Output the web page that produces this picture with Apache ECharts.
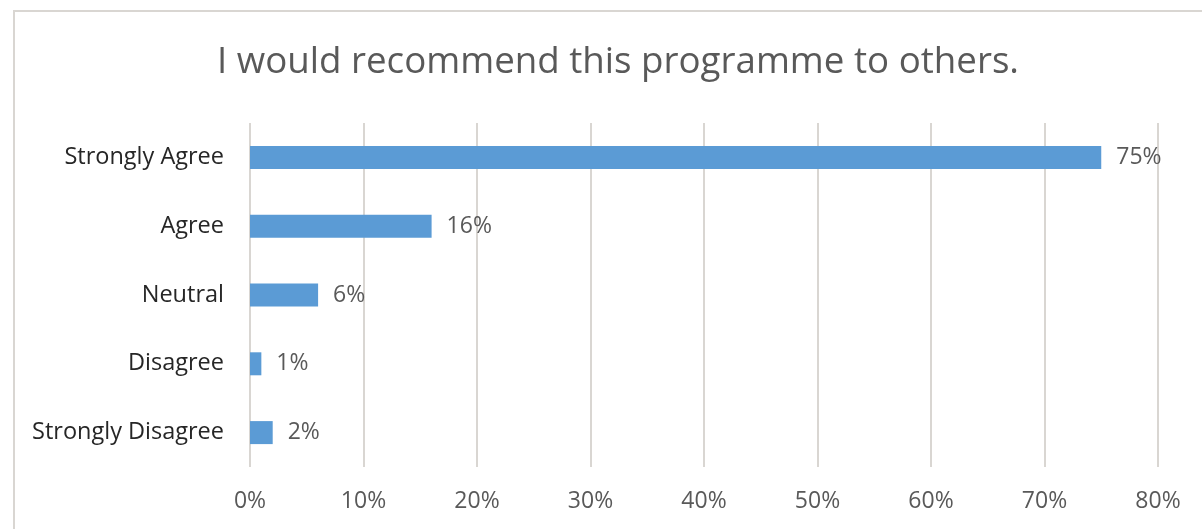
<!DOCTYPE html>
<html>
<head>
<meta charset="utf-8">
<script src="https://cdn.jsdelivr.net/npm/echarts@6/dist/echarts.min.js"></script>
<style>
  html, body { margin: 0; padding: 0; background: #ffffff; }
  #chart { width: 1202px; height: 529px; }
</style>
</head>
<body>
<div id="chart"></div>
<script>
// Survey responses, top to bottom as shown
const categories = ['Strongly Agree', 'Agree', 'Neutral', 'Disagree', 'Strongly Disagree'];
const shares = [75, 16, 6, 1, 2]; // percent of respondents
const tickValues = [0, 10, 20, 30, 40, 50, 60, 70, 80];
const titleText = 'I would recommend this programme to others.';

const FONT = '"Open Sans", Lato, sans-serif';
const TEXT = '#595959';

const chart = echarts.init(document.getElementById('chart'), null, { renderer: 'canvas' });

chart.setOption({
  animation: false,
  backgroundColor: '#ffffff',
  graphic: [{
    type: 'rect',
    shape: { x: 14, y: 11, width: 1300, height: 700 },
    style: { fill: 'none', stroke: '#d9d6d2', lineWidth: 2 },
    silent: true
  }],
  title: {
    text: titleText,
    left: 613,
    textAlign: 'center',
    top: 39,
    textStyle: { fontFamily: FONT, fontSize: 36.7, fontWeight: 'normal', color: TEXT }
  },
  grid: { left: 250, right: 44, top: 123, bottom: 62, containLabel: false },
  xAxis: {
    type: 'value',
    min: tickValues[0],
    max: tickValues[tickValues.length - 1],
    interval: 10,
    axisLine: { show: false },
    axisTick: { show: false },
    splitLine: { lineStyle: { color: '#d9d6d2', width: 2 } },
    axisLabel: {
      formatter: '{value}%',
      margin: 23,
      fontFamily: FONT, fontSize: 23, color: TEXT
    }
  },
  yAxis: {
    type: 'category',
    data: categories,
    inverse: true,
    axisLine: { show: false },
    axisTick: { show: false },
    axisLabel: { margin: 26, fontFamily: FONT, fontSize: 23.5, color: '#262626' }
  },
  series: [{
    type: 'bar',
    data: shares,
    barWidth: 23,
    itemStyle: { color: '#5b9bd5' },
    label: {
      show: true,
      position: 'right',
      distance: 15,
      formatter: '{c}%',
      fontFamily: FONT, fontSize: 23, color: TEXT
    }
  }]
});
</script>
</body>
</html>
